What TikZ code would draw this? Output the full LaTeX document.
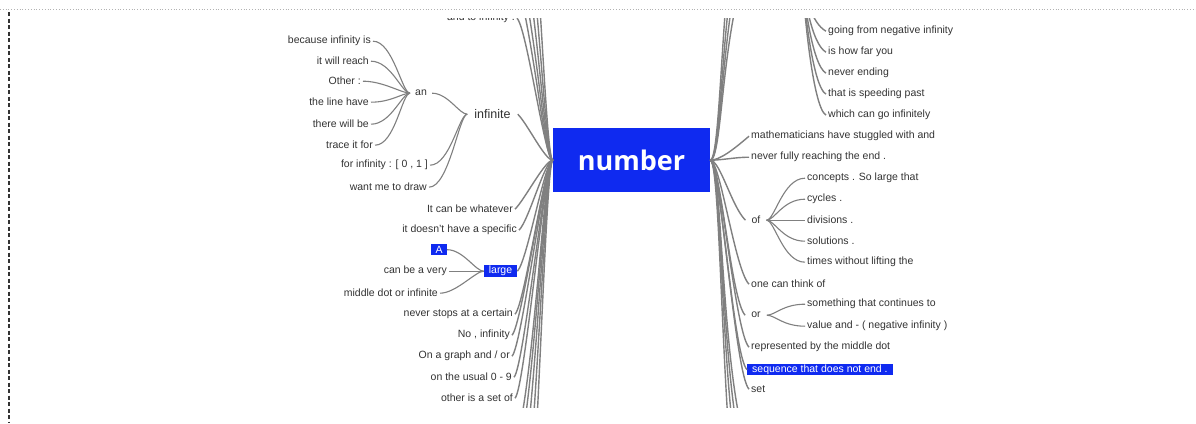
\documentclass[tikz,border=0pt]{standalone}
\usepackage{fontspec}
\setmainfont{Liberation Sans}
\newfontfamily\numfont{Open Sans}
\usetikzlibrary{calc}
\definecolor{txt}{HTML}{333333}
\definecolor{ln}{HTML}{808080}
\definecolor{mmblue}{HTML}{0F2AF0}
\begin{document}
\begin{tikzpicture}[x=1pt,y=-1pt,
  every node/.style={font=\fontsize{10.5}{12}\selectfont, text=txt, inner sep=2pt, yshift=-1.2pt},
  bluebox/.style={fill=mmblue, text=white, inner xsep=5pt, inner ysep=0pt, minimum height=12pt, yshift=0pt},
  trunk/.style={draw=ln, line width=1.4pt},
  twig/.style={draw=ln, line width=1.1pt},
  hub/.style={inner xsep=5pt}
]
\useasboundingbox (0,0) rectangle (1196,423);
\fill[white] (0,0) rectangle (1196,423);
\draw[black!30, dotted, line width=0.8pt] (0,9) -- (1196,9);
\draw[black!80, line width=1.6pt, dash pattern=on 4pt off 2.5pt] (9,12) -- (9,423);

\begin{scope}
\clip (12,18) rectangle (1196,407);
% central node
\node[fill=mmblue, minimum width=157pt, minimum height=64pt, inner sep=0pt, yshift=0pt,
      text=white, font=\numfont\bfseries\fontsize{27}{30}\selectfont] (num) at (631.5,159) {number};

% ---------- left side ----------
\node[anchor=east] (t0) at (517,17) {and to infinity .};
\node[anchor=east] (a1) at (373,40) {because infinity is};
\node[anchor=east] (a2) at (371,60) {it will reach};
\node[anchor=east] (a3) at (363,80) {Other :};
\node[anchor=east] (a4) at (371,101) {the line have};
\node[anchor=east] (a5) at (371,123) {there will be};
\node[anchor=east] (a6) at (375,144) {trace it for};
\node[hub] (an) at (421,92) {an};
\node[inner xsep=7pt, font=\fontsize{12.5}{14}\selectfont] (inf) at (492.5,113) {infinite};
\node[anchor=east] (f1) at (430,164) {for infinity : [ 0 , 1 ]};
\node[anchor=east] (f2) at (429,186) {want me to draw};
\node[anchor=east] (w1) at (515,208) {It can be whatever};
\node[anchor=east] (w2) at (519,229) {it doesn't have a specific};
\node[bluebox] (lg) at (500.5,270) {large};
\node[bluebox, inner xsep=4.5pt, minimum height=11pt] (A) at (439,248.5) {A};
\node[anchor=east] (l1) at (449,270) {can be a very};
\node[anchor=east] (l2) at (440,292) {middle dot or infinite};
\node[anchor=east] (b1) at (515,313) {never stops at a certain};
\node[anchor=east] (b2) at (512,334) {No , infinity};
\node[anchor=east] (b3) at (512,355) {On a graph and / or};
\node[anchor=east] (b4) at (514,376) {on the usual 0 - 9};
\node[anchor=east] (b5) at (515,397) {other is a set of};
% off-view ends of the left trunk
\coordinate (lt1) at (520,-10);
\coordinate (lt2) at (520,-35);
\coordinate (lt3) at (520,-70);
\coordinate (lt4) at (520,-120);
\coordinate (lt5) at (520,-200);
\coordinate (lb1) at (520,425);
\coordinate (lb2) at (520,450);
\coordinate (lb3) at (520,490);
\coordinate (lb4) at (520,550);
\coordinate (lb5) at (520,640);

% ---------- right side ----------
\coordinate (gp) at (800,-60);
\node[anchor=west] (g1) at (826,30) {going from negative infinity};
\node[anchor=west] (g2) at (826,51) {is how far you};
\node[anchor=west] (g3) at (826,72) {never ending};
\node[anchor=west] (g4) at (826,93) {that is speeding past};
\node[anchor=west] (g5) at (826,114) {which can go infinitely};
\node[anchor=west] (r1) at (749,135) {mathematicians have stuggled with and};
\node[anchor=west] (r2) at (749,156) {never fully reaching the end .};
\node[hub, inner xsep=6pt] (of) at (756,219) {of};
\node[anchor=west] (o1) at (805,177) {concepts . So large that};
\node[anchor=west] (o2) at (805,198) {cycles .};
\node[anchor=west] (o3) at (805,219) {divisions .};
\node[anchor=west] (o4) at (805,240) {solutions .};
\node[anchor=west] (o5) at (805,261) {times without lifting the};
\node[anchor=west] (r3) at (749,283) {one can think of};
\node[hub, inner xsep=6pt] (or) at (756,314) {or};
\node[anchor=west] (p1) at (805,303) {something that continues to};
\node[anchor=west] (p2) at (805,325) {value and - ( negative infinity )};
\node[anchor=west] (r4) at (749,346) {represented by the middle dot};
\node[bluebox, anchor=west, minimum height=11.5pt] (seq) at (747,368.5) {sequence that does not end .};
\node[anchor=west] (r5) at (749,388) {set};
\coordinate (rt1) at (745,-30);
\coordinate (rt2) at (745,-55);
\coordinate (rt3) at (745,-85);
\coordinate (rt4) at (745,-130);
\coordinate (rb1) at (745,440);
\coordinate (rb2) at (745,465);
\coordinate (rb3) at (745,500);
\coordinate (rb4) at (745,560);

% ---------- connectors ----------
% left trunk
\foreach \n in {t0,inf}
  \draw[trunk] (num.west) .. controls +(-8,0) and +(10,10) .. (\n.east);
\foreach \n in {w1,w2,lg,b1,b2,b3,b4,b5}
  \draw[trunk] (num.west) .. controls +(-8,0) and +(10,-10) .. (\n.east);
\foreach \n in {lt1,lt2,lt3,lt4,lt5}
  \draw[trunk] (num.west) .. controls +(-8,0) and +(18,80) .. (\n);
\foreach \n in {lb1,lb2,lb3,lb4,lb5}
  \draw[trunk] (num.west) .. controls +(-8,0) and +(16,-80) .. (\n);
% left sub-branches
\foreach \n in {a1,a2,a3,a4,a5,a6}
  \draw[twig] (\n.east) .. controls +(20,0) and +(-8,0) .. (an.west);
\draw[twig] (an.east) .. controls +(16,0) and +(-8,0) .. (inf.west);
\foreach \n in {f1,f2}
  \draw[twig] (\n.east) .. controls +(20,0) and +(-8,0) .. (inf.west);
\foreach \n in {A,l1,l2}
  \draw[twig] (\n.east) .. controls +(16,0) and +(-8,0) .. (lg.west);
% right trunk
\draw[trunk] (num.east) .. controls +(10,0) and +(-14,12) .. (r1.west);
\draw[trunk] (num.east) .. controls +(12,0) and +(-14,0) .. (r2.west);
\foreach \n in {of,r3,or,r4,seq,r5}
  \draw[trunk] (num.east) .. controls +(10,0) and +(-14,-14) .. (\n.west);
\foreach \n in {rt1,rt2,rt3,rt4}
  \draw[trunk] (num.east) .. controls +(12,0) and +(-24,70) .. (\n);
\foreach \n in {rb1,rb2,rb3,rb4}
  \draw[trunk] (num.east) .. controls +(12,0) and +(-24,-80) .. (\n);
% right sub-branches
\foreach \n in {g1,g2,g3,g4,g5}
  \draw[trunk] (gp) .. controls +(2,55) and +(-14,-8) .. (\n.west);
\foreach \n in {o1,o2,o3,o4,o5}
  \draw[twig] (of.east) .. controls +(8,0) and +(-22,0) .. (\n.west);
\foreach \n in {p1,p2}
  \draw[twig] (or.east) .. controls +(8,0) and +(-22,0) .. (\n.west);
\end{scope}
\end{tikzpicture}
\end{document}
